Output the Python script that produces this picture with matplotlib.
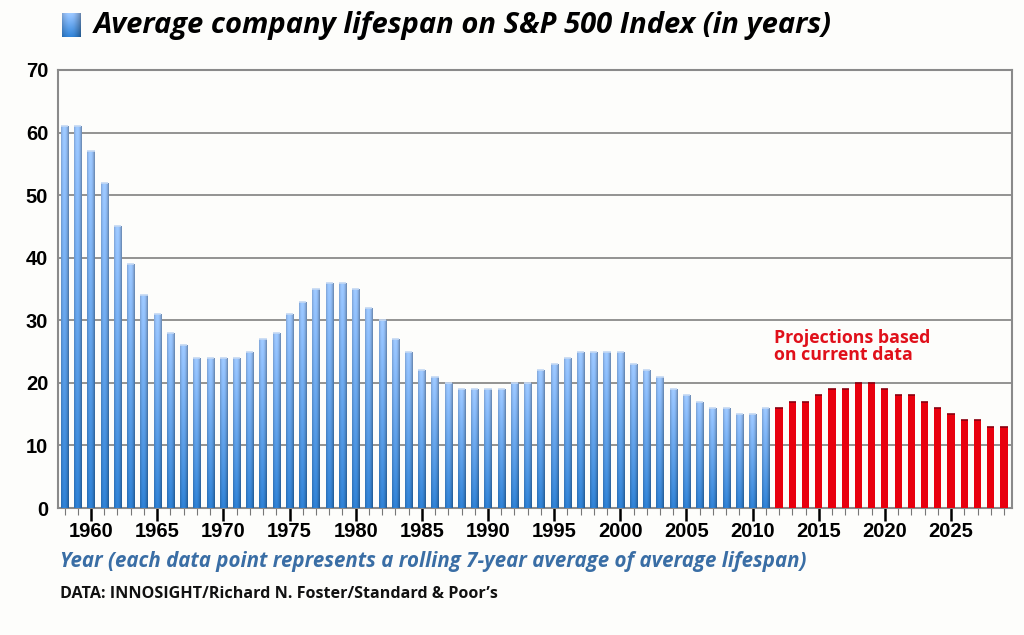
import numpy as np
import matplotlib.pyplot as plt
from matplotlib.colors import LinearSegmentedColormap, to_rgb

# Data
years = list(range(1958, 2030))
lifespan = [61, 61, 57, 52, 45, 39, 34, 31, 28, 26,
            24, 24, 24, 24, 25, 27, 28, 31, 33, 35,
            36, 36, 35, 32, 30, 27, 25, 22, 21, 20,
            19, 19, 19, 19, 20, 20, 22, 23, 24, 25,
            25, 25, 25, 23, 22, 21, 19, 18, 17, 16,
            16, 15, 15, 16,
            16, 17, 17, 18, 19, 19, 20, 20, 19, 18,
            18, 17, 16, 15, 14, 14, 13, 13]
first_projection = 2012
major_years = [1960, 1965, 1970, 1975, 1980, 1985, 1990, 1995, 2000, 2005,
               2010, 2015, 2020, 2025]

title = "Average company lifespan on S&P 500 Index (in years)"
xlabel = "Year (each data point represents a rolling 7-year average of average lifespan)"
source = "DATA: INNOSIGHT/Richard N. Foster/Standard & Poor\u2019s"

blue_cmap = LinearSegmentedColormap.from_list("b", ["#2a72b8", "#5a92d3", "#a3c2ec"])

# shaded bar texture: vertical blue gradient plus a cylinder-like sideways shade
t = np.linspace(0, 1, 64)[:, None]
bottom_c = np.array(to_rgb("#2b76c2"))
top_c = np.array(to_rgb("#8fb6ea"))
vert = bottom_c * (1 - t[..., None]) + top_c * t[..., None]
s = np.linspace(-1, 1, 16)
side = 1.12 - 0.28 * (s + 0.15) ** 2
bar_img = np.clip(vert * side[None, :, None], 0, 1)

fig = plt.figure(figsize=(10.24, 6.35), dpi=100)
fig.patch.set_facecolor("#fdfdfb")
ax = fig.add_axes([0.0566, 0.2, 0.9316, 0.6898])
ax.set_facecolor("#fdfdfb")

width = 0.54
for yr, val in zip(years, lifespan):
    if yr >= first_projection:
        ax.bar(yr, val, width=width, color="#e8000e", edgecolor="none", zorder=3)
        ax.plot([yr - width / 2, yr + width / 2], [val, val], color="#8a0010",
                lw=1.2, zorder=4, solid_capstyle="butt")
    else:
        bar = ax.bar(yr, val, width=width, color="none", edgecolor="none", zorder=3)[0]
        im = ax.imshow(bar_img, extent=[yr - width / 2, yr + width / 2, 0, val],
                       aspect="auto", origin="lower", zorder=3,
                       interpolation="bilinear")
        im.set_clip_path(bar)
        ax.plot([yr - width / 2, yr + width / 2], [val, val], color="#c4d8f3",
                lw=1.2, zorder=4, solid_capstyle="butt")

ax.set_xlim(1957.5, 2029.6)
ax.set_ylim(0, 70)
ax.set_yticks(range(0, 71, 10))
ax.yaxis.grid(True, color="#8a8a8a", lw=1.3, zorder=1)
ax.set_axisbelow(True)
for sp in ax.spines.values():
    sp.set_color("#8a8a8a")
    sp.set_linewidth(1.5)

ax.set_xticks(major_years)
ax.set_xticks(years, minor=True)
ax.tick_params(axis="x", which="major", length=9, width=1.8, color="black",
               direction="out", pad=1)
ax.tick_params(axis="x", which="minor", length=5, width=0.8, color="#777777",
               direction="out")
ax.tick_params(axis="y", length=0, pad=7)
for lab in ax.get_xticklabels() + ax.get_yticklabels():
    lab.set_fontfamily("Liberation Sans")
    lab.set_fontweight("bold")
    lab.set_fontsize(14.5)

ax.text(2011.6, 28.6, "Projections based\non current data", color="#e0101a",
        fontsize=12.8, fontweight="bold", fontfamily="Open Sans",
        va="top", ha="left", linespacing=0.95, zorder=5)

# title with legend square
sq = fig.add_axes([62 / 1024, 1 - 37 / 635, 19 / 1024, 24 / 635])
sq.imshow(bar_img, aspect="auto", origin="lower", extent=[0, 1, 0, 1])
sq.set_axis_off()
fig.text(94 / 1024, 1 - 25 / 635, title, fontsize=21, fontweight="bold",
         style="italic", fontfamily="Open Sans", va="center", ha="left")

fig.text(60 / 1024, 1 - 562 / 635, xlabel, fontsize=14.8, fontweight="bold",
         style="italic", color="#3a6ea5", fontfamily="Open Sans",
         va="center", ha="left")
fig.text(60 / 1024, 1 - 594 / 635, source, fontsize=11.6, fontweight="bold",
         color="#111111", fontfamily="Open Sans", va="center", ha="left")

fig.savefig("out.png", dpi=100, facecolor=fig.get_facecolor())
